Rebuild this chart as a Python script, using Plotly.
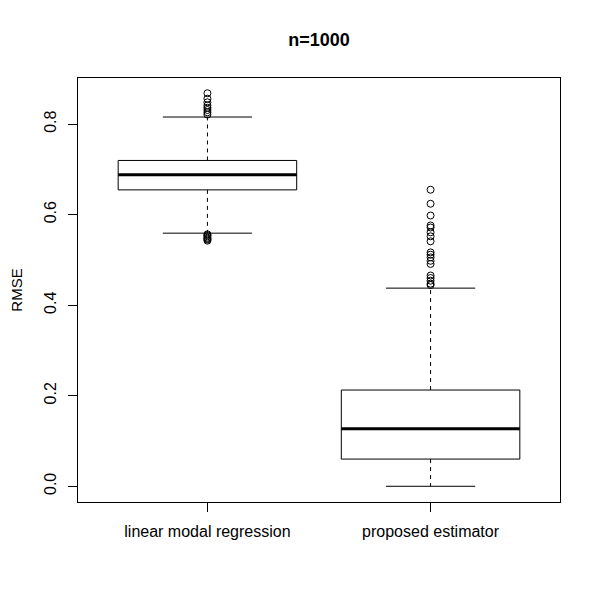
import plotly.graph_objects as go

# Summary statistics
methods = ['linear modal regression', 'proposed estimator']
lower_whisker = [0.559, 0.0]
q1 = [0.6546, 0.0601]
median = [0.6879, 0.1272]
q3 = [0.7196, 0.2126]
upper_whisker = [0.8155, 0.4376]
outliers = [
    [0.868, 0.856, 0.848, 0.841, 0.836, 0.831, 0.826, 0.821,
     0.5565, 0.5545, 0.552, 0.549, 0.547, 0.545, 0.5425],
    [0.655, 0.624, 0.598, 0.576, 0.5715, 0.561, 0.552, 0.541,
     0.5165, 0.5115, 0.5055, 0.498, 0.491, 0.4655, 0.46, 0.454,
     0.4475, 0.4445],
]

BOX_HALF = 0.4
CAP_HALF = 0.2
line = dict(color='black', width=1)

fig = go.Figure()

for i, name in enumerate(methods):
    c = i + 1
    # box outline
    fig.add_trace(go.Scatter(
        x=[c - BOX_HALF, c + BOX_HALF, c + BOX_HALF, c - BOX_HALF, c - BOX_HALF],
        y=[q1[i], q1[i], q3[i], q3[i], q1[i]],
        mode='lines', line=line, hoverinfo='skip'))
    # median
    fig.add_trace(go.Scatter(
        x=[c - BOX_HALF, c + BOX_HALF], y=[median[i], median[i]],
        mode='lines', line=dict(color='black', width=3), hoverinfo='skip'))
    # dashed whiskers
    for a, b in [(q3[i], upper_whisker[i]), (q1[i], lower_whisker[i])]:
        fig.add_trace(go.Scatter(
            x=[c, c], y=[a, b], mode='lines',
            line=dict(color='black', width=1, dash='4px,4px'),
            hoverinfo='skip'))
    # whisker caps
    for w in [upper_whisker[i], lower_whisker[i]]:
        fig.add_trace(go.Scatter(
            x=[c - CAP_HALF, c + CAP_HALF], y=[w, w],
            mode='lines', line=line, hoverinfo='skip'))
    # outliers
    fig.add_trace(go.Scatter(
        x=[c] * len(outliers[i]), y=outliers[i], mode='markers',
        marker=dict(symbol='circle-open', size=7, color='black',
                    line=dict(width=1))))

font = 'Liberation Sans, Arial, sans-serif'

# the page body adds an 8px offset, margins are trimmed to make up for it
fig.update_layout(
    width=600, height=600,
    showlegend=False,
    plot_bgcolor='white', paper_bgcolor='white',
    margin=dict(l=70, r=48, t=70, b=106, autoexpand=False),
    font=dict(family=font, size=16, color='black'),
    title=dict(text='<b>n=1000</b>', x=(70 + 552) / 2 / 600, xanchor='center',
               y=1 - 32 / 600, yanchor='middle',
               font=dict(size=18, family=font)),
    xaxis=dict(
        range=[0.42, 2.58], tickvals=[1, 2], ticktext=methods,
        showgrid=False, zeroline=False,
        showline=True, mirror=True, linecolor='black', linewidth=1,
        ticks='outside', ticklen=9, tickcolor='black',
        ticklabelstandoff=6),
    yaxis=dict(
        range=[-0.0347, 0.9017], tickvals=[0, 0.2, 0.4, 0.6, 0.8],
        tickformat='.1f', tickangle=-90,
        showgrid=False, zeroline=False,
        showline=True, mirror=True, linecolor='black', linewidth=1,
        ticks='outside', ticklen=9, tickcolor='black',
        ticklabelstandoff=6,
        title=dict(text='RMSE', standoff=25, font=dict(size=15))),
)

fig.write_html('out.html')
